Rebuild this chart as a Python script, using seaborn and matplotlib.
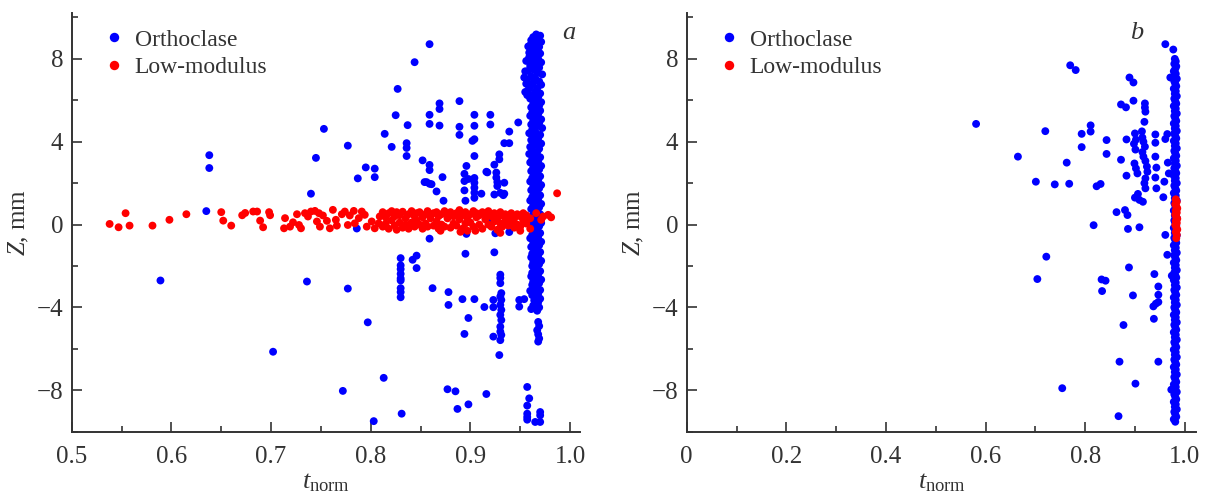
import numpy as np
import pandas as pd
import matplotlib
matplotlib.use('Agg')
import matplotlib.pyplot as plt
import seaborn as sns

# panel a: scattered orthoclase events (t_norm, Z)
a_blue_t = [0.635, 0.638, 0.638, 0.740, 0.745, 0.753, 0.777, 0.787, 0.795, 0.804, 0.804, 0.814,
            0.821, 0.825, 0.827, 0.836, 0.836, 0.836, 0.837, 0.844, 0.852, 0.854, 0.859, 0.859,
            0.859, 0.859, 0.859, 0.859, 0.859, 0.866, 0.869, 0.869, 0.869, 0.872, 0.873, 0.889,
            0.889, 0.889, 0.894, 0.894, 0.895, 0.896, 0.902, 0.904, 0.904, 0.904, 0.904, 0.904,
            0.904, 0.904, 0.904, 0.904, 0.911, 0.916, 0.920, 0.920, 0.924, 0.924, 0.926, 0.926,
            0.927, 0.927, 0.929, 0.929, 0.934, 0.934, 0.934, 0.939, 0.939, 0.948, 0.921, 0.939,
            0.896, 0.786, 0.918, 0.925, 0.856, 0.861, 0.894, 0.898, 0.917, 0.930, 0.933,
            # lower half
            0.589, 0.702, 0.736, 0.772, 0.777, 0.797, 0.803, 0.813, 0.830, 0.830, 0.830, 0.830,
            0.830, 0.830, 0.830, 0.830, 0.830, 0.831, 0.842, 0.846, 0.846, 0.862, 0.877, 0.878,
            0.878, 0.885, 0.887, 0.892, 0.894, 0.895, 0.898, 0.898, 0.904, 0.914, 0.916, 0.923,
            0.923, 0.923, 0.924, 0.929, 0.930, 0.930, 0.930, 0.931, 0.930, 0.931, 0.930, 0.931,
            0.930, 0.931, 0.930, 0.930, 0.931, 0.930, 0.949, 0.949, 0.954, 0.960, 0.957, 0.959,
            0.957, 0.957, 0.957, 0.957, 0.965, 0.970, 0.970, 0.970, 0.968, 0.969, 0.967, 0.968,
            0.969, 0.968]
a_blue_z = [0.65, 3.35, 2.73, 1.49, 3.22, 4.62, 3.81, 2.23, 2.76, 2.70, 2.29, 4.38,
            3.75, 5.28, 6.55, 3.31, 3.93, 3.70, 4.80, 7.84, 3.10, 2.05, 8.71, 5.30,
            4.86, 2.88, 2.63, 1.97, -0.68, 1.60, 5.85, 5.58, 4.78, 2.29, 1.15, 5.96,
            4.72, 4.33, 2.10, 1.65, 1.15, 2.83, 4.04, 5.30, 4.77, 4.12, 3.31, 2.25,
            2.02, 1.78, 1.54, 1.29, 1.49, 2.55, 5.30, 4.83, 2.89, 1.45, 2.51, 2.27,
            2.05, 1.86, 3.15, 3.39, 3.93, 1.49, 2.02, 4.49, 3.93, 4.93, 0.20, -0.36,
            -0.45, -0.19, 0.47, -0.42, 2.05, 1.95, 2.45, 2.20, 2.52, 1.53, 1.42,
            -2.70, -6.14, -2.75, -8.03, -3.09, -4.72, -9.49, -7.40, -1.62, -1.97, -2.15, -2.38,
            -2.60, -2.70, -3.07, -3.26, -3.51, -9.13, -1.70, -1.50, -2.10, -3.07, -7.95, -3.26,
            -3.88, -8.05, -8.90, -3.60, -5.28, -1.41, -8.68, -4.51, -3.60, -3.98, -8.18, -3.64,
            -3.99, -5.41, -1.34, -6.30, -2.42, -2.58, -2.83, -3.31, -3.47, -3.64, -3.88, -4.12,
            -4.36, -4.61, -4.93, -5.17, -5.33, -5.58, -3.64, -3.96, -3.60, -3.20, -7.84, -8.39,
            -8.74, -9.13, -9.29, -9.42, -9.53, -9.05, -9.21, -9.53, -4.70, -4.90, -5.10, -5.30,
            -5.50, -5.65]

# panel a: dense orthoclase column near t_norm ~ 0.965
a_col_z = [9.18, 9.12, 9.05, 8.97, 8.90, 8.82, 8.75, 8.66, 8.58, 8.50, 8.41, 8.33, 8.26, 8.17,
           8.08, 8.00, 7.92, 7.83, 7.75, 7.66, 7.58, 7.50, 7.42, 7.33, 7.25, 7.16, 7.08, 7.00,
           6.91, 6.83, 6.75, 6.66, 6.58, 6.50, 6.42, 6.33, 6.25, 6.16, 6.08, 6.00, 5.91, 5.83,
           5.75, 5.66, 5.58, 5.50, 5.41, 5.33, 5.25, 5.16, 5.08, 5.00, 4.91, 4.83, 4.75, 4.66,
           4.58, 4.50, 4.41, 4.33, 4.25, 4.16, 4.08, 4.00, 3.91, 3.83, 3.75, 3.66, 3.58, 3.50,
           3.41, 3.33, 3.25, 3.16, 3.08, 3.00, 2.91, 2.83, 2.75, 2.66, 2.58, 2.50, 2.41, 2.33,
           2.25, 2.16, 2.08, 2.00, 1.91, 1.83, 1.75, 1.66, 1.58, 1.50, 1.41, 1.33, 1.25, 1.16,
           1.08, 1.00, 0.91, 0.83, 0.75, 0.66, 0.58, 0.50, 0.41, 0.33, 0.25, 0.16, 0.08, 0.00,
           -0.08, -0.16, -0.25, -0.33, -0.41, -0.50, -0.58, -0.66, -0.75, -0.83, -0.91, -1.00,
           -1.08, -1.16, -1.25, -1.33, -1.41, -1.50, -1.58, -1.66, -1.75, -1.83, -1.91, -2.00,
           -2.08, -2.16, -2.25, -2.33, -2.41, -2.50, -2.58, -2.66, -2.75, -2.83, -2.91, -3.00,
           -3.08, -3.16, -3.25, -3.33, -3.41, -3.50, -3.58, -3.66, -3.75, -3.83, -3.91, -4.00,
           -4.08, -4.16, 7.40, 7.10, 6.80, 6.40, 6.25, 8.30, 8.60, 7.90]
a_col_t = [0.966, 0.970, 0.963, 0.968, 0.961, 0.971, 0.965, 0.960, 0.969, 0.963, 0.967, 0.961,
           0.970, 0.964, 0.959, 0.968, 0.962, 0.971, 0.966, 0.960, 0.969, 0.963, 0.958, 0.967,
           0.972, 0.961, 0.965, 0.957, 0.969, 0.963, 0.971, 0.960, 0.967, 0.958, 0.965, 0.970,
           0.962, 0.968, 0.960, 0.966, 0.971, 0.963, 0.969, 0.961, 0.965, 0.970, 0.962, 0.968,
           0.960, 0.966, 0.971, 0.963, 0.969, 0.961, 0.967, 0.972, 0.962, 0.965, 0.959, 0.970,
           0.963, 0.968, 0.961, 0.966, 0.971, 0.964, 0.960, 0.969, 0.962, 0.967, 0.959, 0.965,
           0.970, 0.962, 0.968, 0.960, 0.966, 0.971, 0.963, 0.969, 0.961, 0.967, 0.964, 0.970,
           0.962, 0.968, 0.960, 0.966, 0.971, 0.963, 0.969, 0.961, 0.967, 0.964, 0.970, 0.962,
           0.968, 0.960, 0.966, 0.971, 0.963, 0.969, 0.961, 0.967, 0.964, 0.970, 0.962, 0.968,
           0.960, 0.966, 0.971, 0.963, 0.969, 0.961, 0.967, 0.964, 0.970, 0.962, 0.968, 0.960,
           0.966, 0.971, 0.963, 0.969, 0.961, 0.967, 0.964, 0.970, 0.962, 0.968, 0.961, 0.966,
           0.971, 0.963, 0.969, 0.962, 0.967, 0.964, 0.970, 0.962, 0.968, 0.961, 0.966, 0.971,
           0.963, 0.969, 0.962, 0.967, 0.964, 0.970, 0.963, 0.968, 0.962, 0.966, 0.970, 0.964,
           0.968, 0.965, 0.963, 0.969, 0.961, 0.967,
           0.955, 0.954, 0.956, 0.955, 0.957, 0.959, 0.958, 0.956]

# panel a: low-modulus band around Z = 0
a_red_t = [0.538, 0.547, 0.554, 0.558, 0.581, 0.598, 0.615, 0.650, 0.652, 0.660, 0.671, 0.674,
           0.682, 0.686, 0.689, 0.692, 0.698, 0.699, 0.713, 0.714, 0.719, 0.722, 0.726, 0.728,
           0.730, 0.734, 0.737, 0.740, 0.744, 0.746, 0.748, 0.749, 0.752, 0.756, 0.759, 0.762,
           0.765, 0.766, 0.771, 0.774, 0.777, 0.779, 0.783, 0.784, 0.788, 0.791, 0.794, 0.796,
           0.801, 0.804, 0.808, 0.809,
           0.812, 0.812, 0.815, 0.815, 0.818, 0.818, 0.821, 0.821, 0.824, 0.824, 0.826, 0.826,
           0.829, 0.829, 0.832, 0.832, 0.835, 0.835, 0.838, 0.838, 0.841, 0.841, 0.844, 0.844,
           0.846, 0.846, 0.849, 0.849, 0.852, 0.852, 0.855, 0.855, 0.857, 0.857, 0.860, 0.860,
           0.863, 0.863, 0.866, 0.866, 0.868, 0.868, 0.871, 0.871, 0.874, 0.874, 0.877, 0.877,
           0.880, 0.880, 0.883, 0.883, 0.886, 0.886, 0.889, 0.889, 0.892, 0.892, 0.895, 0.895,
           0.897, 0.897, 0.900, 0.900, 0.903, 0.903, 0.906, 0.906, 0.909, 0.909, 0.912, 0.912,
           0.915, 0.915, 0.918, 0.918, 0.921, 0.921, 0.924, 0.924, 0.927, 0.927, 0.930, 0.930,
           0.932, 0.932, 0.935, 0.935, 0.938, 0.938, 0.941, 0.941, 0.944, 0.944, 0.947, 0.947,
           0.950, 0.950, 0.953, 0.953, 0.956, 0.956, 0.960, 0.960, 0.966, 0.971, 0.973, 0.978,
           0.981, 0.987, 0.870, 0.890, 0.905, 0.930, 0.950]
a_red_z = [0.03, -0.13, 0.55, -0.05, -0.05, 0.23, 0.50, 0.60, 0.19, -0.05, 0.45, 0.56,
           0.63, 0.63, 0.19, -0.13, 0.60, 0.45, -0.18, 0.31, -0.10, 0.11, 0.50, -0.02,
           -0.18, 0.55, 0.39, 0.63, 0.66, 0.15, 0.55, -0.10, 0.44, 0.18, -0.18, 0.71,
           0.23, -0.05, 0.50, 0.63, -0.02, 0.44, 0.66, 0.06, 0.31, 0.63, 0.47, -0.10,
           0.15, -0.18, 0.06, 0.39,
           0.60, -0.10, 0.35, 0.05, 0.55, -0.20, 0.65, 0.20, 0.40, -0.05, 0.60, -0.25,
           0.10, 0.45, 0.62, -0.15, 0.30, 0.00, 0.50, -0.20, 0.65, 0.10, 0.40, -0.10,
           0.55, 0.20, 0.00, 0.60, 0.35, -0.20, 0.50, 0.05, 0.65, -0.10, 0.30, 0.45,
           0.55, -0.05, 0.15, 0.60, -0.20, 0.40, 0.50, 0.00, 0.65, -0.10, 0.30, 0.50,
           -0.15, 0.60, 0.40, 0.05, 0.55, -0.05, 0.70, 0.25, 0.45, -0.20, 0.60, 0.05,
           0.30, -0.30, 0.50, 0.10, 0.65, -0.10, 0.35, 0.55, 0.00, 0.45, 0.60, -0.20,
           0.25, 0.50, 0.65, 0.00, 0.40, -0.10, 0.55, 0.15, 0.30, -0.25, 0.60, 0.05,
           0.45, -0.10, 0.50, 0.20, 0.35, -0.05, 0.55, 0.10, 0.30, -0.15, 0.50, 0.00,
           0.40, -0.10, 0.20, 0.55, 0.45, 0.05, 0.30, -0.20, 0.55, 0.23, 0.39, 0.47,
           0.35, 1.51, -0.30, -0.35, -0.30, -0.40, -0.30]

# panel b: scattered orthoclase events
b_blue_t = [0.581, 0.665, 0.701, 0.704, 0.720, 0.722, 0.739, 0.754, 0.763, 0.768, 0.770, 0.781,
            0.793, 0.793, 0.811, 0.811, 0.817, 0.823, 0.831, 0.833, 0.841, 0.834, 0.843, 0.843,
            0.863, 0.867, 0.869, 0.872, 0.872, 0.877, 0.882, 0.880, 0.883, 0.883, 0.885, 0.886,
            0.888, 0.889, 0.897, 0.897, 0.896, 0.901,
            0.900, 0.902, 0.898, 0.901, 0.899, 0.902, 0.905, 0.900, 0.906, 0.909, 0.916, 0.909,
            0.920, 0.920, 0.921, 0.919, 0.914, 0.915, 0.917, 0.920, 0.915, 0.917, 0.921, 0.924,
            0.925, 0.921, 0.919, 0.921,
            0.941, 0.941, 0.941, 0.943, 0.941, 0.943, 0.939, 0.937, 0.942, 0.947, 0.938, 0.947,
            0.947, 0.947, 0.961, 0.965, 0.959, 0.957, 0.961, 0.971, 0.961, 0.977, 0.966, 0.968,
            0.965, 0.973, 0.974]
b_blue_z = [4.86, 3.28, 2.07, -2.63, 4.51, -1.55, 1.94, -7.90, 2.99, 1.97, 7.69, 7.46,
            4.38, 3.74, 4.79, 4.49, -0.03, 1.85, 1.96, -2.65, -2.71, -3.21, 4.08, 3.41,
            0.60, -9.25, -6.62, 5.80, 3.13, -4.85, 5.66, 0.70, 4.11, 2.36, 0.46, -0.21,
            -2.07, 7.10, 6.86, 5.98, -3.42, -7.68,
            4.40, 4.10, 3.90, 3.62, 2.95, 2.71, 2.47, 1.30, 1.48, 1.19, 1.10, -0.13,
            5.85, 5.65, 5.45, 4.96, 4.50, 4.20, 4.00, 3.76, 3.50, 3.28, 3.07, 2.80,
            2.55, 2.23, 2.00, 1.75,
            4.35, 3.95, 3.28, 2.75, 2.27, 1.75, -2.39, -3.95, -3.82, -3.74, -4.55, -2.99,
            -3.39, -6.62, 4.13, 4.37, 2.07, 1.32, -0.50, 7.10, 8.71, 8.45, 2.99, 2.47,
            -1.46, -7.97, -2.47]

# panel b: dense orthoclase column near t_norm ~ 0.98
b_col_z = [8.00, 7.88, 7.76, 7.64, 7.52, 7.40, 7.28, 7.16, 7.04, 6.92, 6.80, 6.68, 6.56, 6.44,
           6.32, 6.20, 6.08, 5.96, 5.84, 5.72, 5.60, 5.48, 5.36, 5.24, 5.12, 5.00, 4.88, 4.76,
           4.64, 4.52, 4.40, 4.28, 4.16, 4.04, 3.92, 3.80, 3.68, 3.56, 3.44, 3.32, 3.20, 3.08,
           2.96, 2.84, 2.72, 2.60, 2.48, 2.36, 2.24, 2.12, 2.00, 1.88, 1.76, 1.64, 1.52, 1.40,
           1.28, 1.16, 1.04, 0.92, 0.80, 0.68, 0.56, 0.44, 0.32, 0.20, 0.08, -0.04, -0.16, -0.28,
           -0.40, -0.52, -0.64, -0.76, -0.88, -1.00, -1.12, -1.24, -1.36, -1.48, -1.60, -1.72,
           -1.84, -1.96, -2.08, -2.20, -2.32, -2.44, -2.56, -2.68, -2.80, -2.92, -3.04, -3.16,
           -3.28, -3.40, -3.52, -3.64, -3.76, -3.88, -4.00, -4.12, -4.24, -4.36, -4.48, -4.60,
           -4.72, -4.84, -4.96, -5.08, -5.20, -5.32, -5.44, -5.56, -5.68, -5.80, -5.92, -6.04,
           -6.16, -6.28, -6.40, -6.52, -6.64, -6.76, -6.88, -7.00, -7.12, -7.24, -7.36, -7.48,
           -7.60, -7.72, -7.84, -7.96, -8.08, -8.20, -8.32, -8.44, -8.56, -8.68, -8.80, -8.92,
           -9.04, -9.16, -9.28, -9.40, -9.52]
b_col_t = [0.980, 0.982, 0.979, 0.983, 0.981, 0.978, 0.982, 0.980, 0.984, 0.979, 0.981, 0.983,
           0.978, 0.982, 0.980, 0.984, 0.979, 0.981, 0.983, 0.978, 0.982, 0.980, 0.984, 0.979,
           0.981, 0.983, 0.978, 0.982, 0.980, 0.984, 0.979, 0.981, 0.983, 0.978, 0.982, 0.980,
           0.984, 0.979, 0.981, 0.983, 0.978, 0.982, 0.980, 0.984, 0.979, 0.981, 0.983, 0.978,
           0.982, 0.980, 0.984, 0.979, 0.981, 0.983, 0.978, 0.982, 0.980, 0.984, 0.979, 0.981,
           0.983, 0.978, 0.982, 0.980, 0.984, 0.979, 0.981, 0.983, 0.978, 0.982, 0.980, 0.984,
           0.979, 0.981, 0.983, 0.978, 0.982, 0.980, 0.984, 0.979, 0.981, 0.983, 0.978, 0.982,
           0.980, 0.984, 0.979, 0.981, 0.983, 0.978, 0.982, 0.980, 0.984, 0.979, 0.981, 0.983,
           0.978, 0.982, 0.980, 0.984, 0.979, 0.981, 0.983, 0.978, 0.982, 0.980, 0.984, 0.979,
           0.981, 0.983, 0.978, 0.982, 0.980, 0.984, 0.979, 0.981, 0.983, 0.978, 0.982, 0.980,
           0.984, 0.979, 0.981, 0.983, 0.978, 0.982, 0.980, 0.984, 0.979, 0.981, 0.983, 0.978,
           0.982, 0.980, 0.984, 0.979, 0.981, 0.983, 0.978, 0.982, 0.980, 0.984, 0.979, 0.981,
           0.983, 0.978, 0.981]

# panel b: low-modulus cluster
b_red_t = [0.982, 0.984, 0.981, 0.983, 0.985, 0.982, 0.984, 0.981, 0.983, 0.985, 0.982, 0.984,
           0.981, 0.983, 0.985, 0.982, 0.984, 0.983]
b_red_z = [1.22, 1.10, 0.98, 0.88, 0.78, 0.68, 0.58, 0.48, 0.38, 0.28, 0.18, 0.08,
           -0.02, -0.12, -0.24, -0.36, -0.50, -0.66]

materials = ["Orthoclase", "Low-modulus"]
colors = {"Orthoclase": "#0000ff", "Low-modulus": "#ff0000"}


def make_df(blue_t, blue_z, red_t, red_z):
    blue = pd.DataFrame({"t": blue_t, "z": blue_z, "mat": materials[0]})
    red = pd.DataFrame({"t": red_t, "z": red_z, "mat": materials[1]})
    return pd.concat([blue, red], ignore_index=True)


df_a = make_df(a_blue_t + a_col_t, a_blue_z + a_col_z, a_red_t, a_red_z)
df_b = make_df(b_blue_t + b_col_t, b_blue_z + b_col_z, b_red_t, b_red_z)

sns.set_style("white")
plt.rcParams['font.family'] = ['Liberation Serif', 'DejaVu Serif']
plt.rcParams['mathtext.fontset'] = 'custom'
plt.rcParams['mathtext.rm'] = 'Liberation Serif'
plt.rcParams['mathtext.it'] = 'Liberation Serif:italic'
plt.rcParams['axes.unicode_minus'] = True

ink = "#333333"
fig = plt.figure(figsize=(12.08, 5.0), dpi=100)
ax_a = fig.add_axes([0.0594, 0.1366, 0.4211, 0.8368])
ax_b = fig.add_axes([0.5685, 0.1366, 0.4219, 0.8368])

panels = [(ax_a, df_a, (0.5, 1.0104), np.arange(0.5, 1.01, 0.1), np.arange(0.55, 1.0, 0.1),
           ["0.5", "0.6", "0.7", "0.8", "0.9", "1.0"], "a", 0.977),
          (ax_b, df_b, (0.0, 1.0234), np.arange(0.0, 1.01, 0.2), np.arange(0.1, 1.0, 0.2),
           ["0", "0.2", "0.4", "0.6", "0.8", "1.0"], "b", 0.882)]

for ax, df, xlim, xmaj, xmin, xlab, tag, tag_x in panels:
    sns.scatterplot(data=df, x="t", y="z", hue="mat", hue_order=materials, palette=colors,
                    s=32, linewidth=0, ax=ax)
    ax.set_xlim(*xlim)
    ax.set_ylim(-10, 10.2)
    ax.set_xticks(xmaj)
    ax.set_xticklabels(xlab)
    ax.set_xticks(xmin, minor=True)
    ax.set_yticks([-8, -4, 0, 4, 8])
    ax.set_yticks([-10, -6, -2, 2, 6, 10], minor=True)
    ax.tick_params(which="both", direction="in", colors=ink, labelsize=18, width=1.2,
                   bottom=True, left=True, top=False, right=False)
    ax.tick_params(which="major", length=7)
    ax.tick_params(which="minor", length=4.5)
    ax.tick_params(axis="x", which="major", pad=10)
    ax.tick_params(axis="y", which="major", pad=6)
    for side in ["top", "right"]:
        ax.spines[side].set_visible(False)
    for side in ["left", "bottom"]:
        ax.spines[side].set_color(ink)
        ax.spines[side].set_linewidth(1.4)
    ax.set_xlabel(r"$t_{\mathrm{norm}}$", fontsize=19, color=ink, labelpad=3)
    ax.set_ylabel(r"$Z$, mm", fontsize=18, color=ink, labelpad=4)
    ax.text(tag_x, 0.953, tag, transform=ax.transAxes, fontsize=19, style="italic",
            color=ink, ha="center", va="center")
    handles, labels = ax.get_legend_handles_labels()
    ax.legend(handles, labels, loc="upper left", bbox_to_anchor=(0.045, 0.985), frameon=False,
              fontsize=17, handlelength=0.8, handletextpad=0.5, labelspacing=0.25,
              borderaxespad=0, markerscale=1.2, labelcolor=ink)

fig.savefig("out.png", dpi=100)
